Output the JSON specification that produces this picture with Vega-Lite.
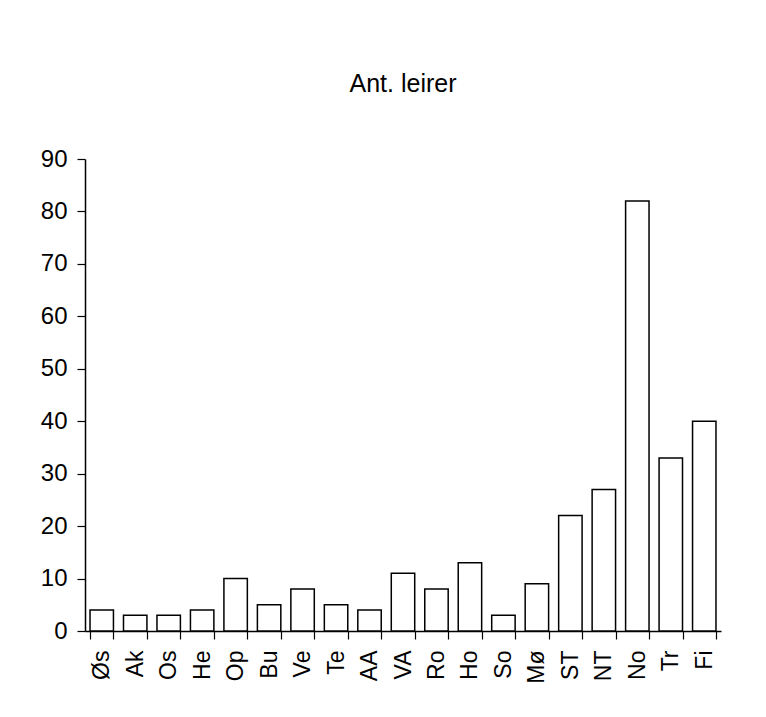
{
  "$schema": "https://vega.github.io/schema/vega-lite/v6.json",
  "width": 636,
  "height": 472,
  "autosize": {"type": "none"},
  "padding": {"left": 85, "top": 159, "right": 45, "bottom": 86},
  "background": "white",
  "title": {
    "text": "Ant. leirer",
    "frame": "group",
    "anchor": "middle",
    "fontSize": 25,
    "font": "Liberation Sans",
    "fontWeight": "normal",
    "offset": 50,
    "color": "black"
  },
  "data": {
    "values": [
      {"fylke": "Øs", "antall": 4},
      {"fylke": "Ak", "antall": 3},
      {"fylke": "Os", "antall": 3},
      {"fylke": "He", "antall": 4},
      {"fylke": "Op", "antall": 10},
      {"fylke": "Bu", "antall": 5},
      {"fylke": "Ve", "antall": 8},
      {"fylke": "Te", "antall": 5},
      {"fylke": "AA", "antall": 4},
      {"fylke": "VA", "antall": 11},
      {"fylke": "Ro", "antall": 8},
      {"fylke": "Ho", "antall": 13},
      {"fylke": "So", "antall": 3},
      {"fylke": "Mø", "antall": 9},
      {"fylke": "ST", "antall": 22},
      {"fylke": "NT", "antall": 27},
      {"fylke": "No", "antall": 82},
      {"fylke": "Tr", "antall": 33},
      {"fylke": "Fi", "antall": 40}
    ]
  },
  "mark": {"type": "bar", "fill": "white", "stroke": "black", "strokeWidth": 1.5},
  "encoding": {
    "x": {
      "field": "fylke",
      "type": "nominal",
      "sort": null,
      "scale": {"paddingInner": 0.3, "paddingOuter": 0.15},
      "axis": {
        "title": null,
        "labelAngle": -90,
        "labelFontSize": 23,
        "labelFont": "Liberation Sans",
        "labelColor": "black",
        "labelPadding": 11,
        "tickSize": 8,
        "tickColor": "black",
        "tickWidth": 1.2,
        "domainColor": "black",
        "domainWidth": 1.5,
        "tickBand": "extent"
      }
    },
    "y": {
      "field": "antall",
      "type": "quantitative",
      "scale": {"domain": [0, 90], "nice": false},
      "axis": {
        "title": null,
        "values": [0, 10, 20, 30, 40, 50, 60, 70, 80, 90],
        "grid": false,
        "labelFontSize": 24,
        "labelFont": "Liberation Sans",
        "labelColor": "black",
        "labelPadding": 10,
        "tickSize": 8,
        "tickColor": "black",
        "tickWidth": 1.2,
        "domainColor": "black",
        "domainWidth": 1.5
      }
    }
  },
  "config": {"view": {"stroke": null}}
}
